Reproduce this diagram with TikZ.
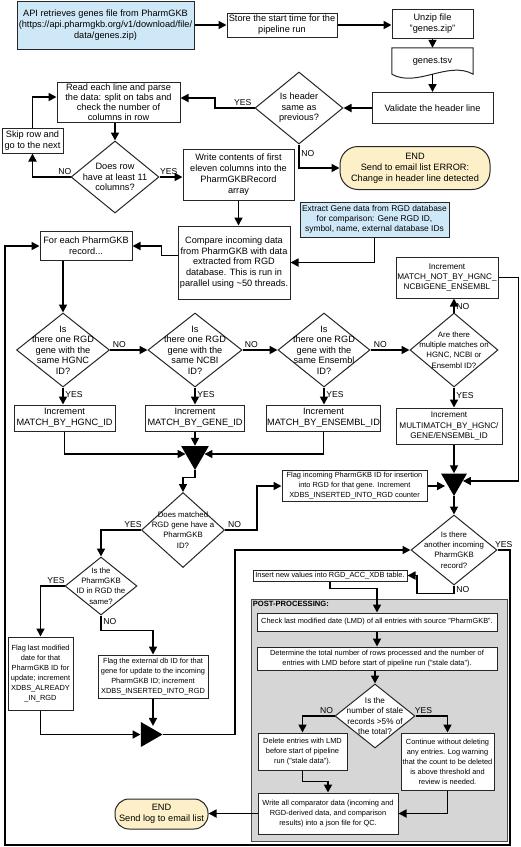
\documentclass[tikz,border=0pt]{standalone}
\usepackage{fontspec}
\setmainfont{Liberation Sans}
\usetikzlibrary{shapes.geometric,arrows.meta}
\definecolor{apiblue}{RGB}{207,232,248}
\definecolor{endyellow}{RGB}{253,240,200}
\definecolor{postgray}{RGB}{214,214,214}

\begin{document}
\begin{tikzpicture}[x=1pt,y=-1pt,
  box/.style={draw=black!85, line width=1pt, fill=white, align=center, inner sep=1pt,
    font=\fontsize{9.2}{10.8}\selectfont},
  small/.style={font=\fontsize{7.4}{10}\selectfont},
  mid/.style={font=\fontsize{8.2}{10.2}\selectfont},
  bluebox/.style={fill=apiblue},
  endbox/.style={box, fill=endyellow, rounded corners=#1},
  dia/.style={diamond, draw=black!85, line width=1pt, fill=white, inner sep=0pt},
  dtext/.style={align=center, inner sep=0pt, font=\fontsize{9.2}{10.5}\selectfont},
  dsmall/.style={font=\fontsize{7.8}{10.2}\selectfont},
  merge/.style={regular polygon, regular polygon sides=3, fill=black, inner sep=0pt},
  arr/.style={line width=1.7pt, -{Triangle[length=8pt,width=8pt]}},
  lbl/.style={font=\fontsize{8.6}{10}\selectfont, inner sep=1.5pt}
]
\useasboundingbox (0,0) rectangle (520,847);
\newcommand\decision[7]{
\node[dia, minimum width=#5pt, minimum height=#6pt] (#1) at (#3,#4) {};
\node[dtext, #2] (#1t) at (#1) {#7};
}
% post-processing area
\node[draw=black!70, line width=0.8pt, fill=postgray, minimum width=256pt, minimum height=242pt] (post) at (379,720) {};
\node[anchor=north west, font=\bfseries\fontsize{7.6}{9}\selectfont, inner sep=2pt] (posttitle) at (post.north west) {POST-PROCESSING:};
\coordinate (br) at (510,845);
\coordinate (bl) at (5,845);

% reading the file
\node[box, bluebox, minimum width=177pt, minimum height=48pt] (api) at (105.5,25) {API retrieves genes file from PharmGKB\\(https://api.pharmgkb.org/v1/download/file/\\data/genes.zip)};
\node[box, minimum width=110pt, minimum height=24pt] (start) at (282,25) {Store the start time for the\\pipeline run};
\node[box, minimum width=81pt, minimum height=29pt] (unzip) at (432.5,23.5) {Unzip file\\"genes.zip"};
\node[minimum width=81pt, minimum height=26pt, inner sep=0pt, font=\fontsize{9.2}{10.8}\selectfont] (tsv) at (432.5,61) {genes.tsv};
\draw[draw=black!85, line width=1pt] (tsv.south west) -- (tsv.north west) -- (tsv.north east) -- (tsv.south east)
  .. controls +(-25pt,14pt) and +(25pt,-14pt) .. (tsv.south west);
\node[box, minimum width=121pt, minimum height=31pt] (validate) at (432.5,108) {Validate the header line};
\decision{dhead}{}{299}{108}{88}{72}{Is header\\same as\\previous?}
\node[box, endbox=18pt, minimum width=150pt, minimum height=43pt] (end1) at (415,168) {END\\Send to email list ERROR:\\Change in header line detected};
\node[box, minimum width=123pt, minimum height=40pt, font=\fontsize{9.2}{10}\selectfont] (read) at (118.5,102) {Read each line and parse\\the data: split on tabs and\\check the number of\\columns in row};
\node[box, minimum width=61pt, minimum height=25pt] (skip) at (32.5,140.5) {Skip row and\\go to the next};
\decision{drow}{}{115}{177}{88}{72}{Does row\\have at least 11\\columns?}
\node[box, minimum width=111pt, minimum height=51pt] (write) at (238.5,174.5) {Write contents of first\\eleven columns into the\\PharmGKBRecord\\array};
\node[box, bluebox, minimum width=149pt, minimum height=35pt, font=\fontsize{8.4}{10}\selectfont] (extract) at (374.5,219.5) {Extract Gene data from RGD database\\for comparison: Gene RGD ID,\\symbol, name, external database IDs};
\node[box, minimum width=112pt, minimum height=73pt] (compare) at (234,262.5) {Compare incoming data\\from PharmGKB with data\\extracted from RGD\\database. This is run in\\parallel using \textasciitilde50 threads.};
\node[box, minimum width=92pt, minimum height=29pt] (foreach) at (86,246) {For each PharmGKB\\record...};

% matching
\decision{d1}{}{63}{350}{93}{74}{Is\\there one RGD\\gene with the\\same HGNC\\ID?}
\decision{d2}{}{195}{350}{94}{74}{Is\\there one RGD\\gene with the\\same NCBI\\ID?}
\decision{d3}{}{324}{350}{92}{74}{Is\\there one RGD\\gene with the\\same Ensembl\\ID?}
\decision{d4}{dsmall}{454}{350}{88}{74}{Are there\\multiple matches on\\HGNC, NCBI or\\Ensembl ID?}
\node[box, mid, minimum width=102pt, minimum height=41pt] (mnot) at (447,277.5) {Increment\\MATCH\_NOT\_BY\_HGNC\_\\NCBIGENE\_ENSEMBL};
\node[box, minimum width=101pt, minimum height=26pt] (hgnc) at (64.5,418) {Increment\\MATCH\_BY\_HGNC\_ID};
\node[box, minimum width=99pt, minimum height=26pt] (gene) at (195,418) {Increment\\MATCH\_BY\_GENE\_ID};
\node[box, minimum width=113pt, minimum height=26pt] (ens) at (323.5,418) {Increment\\MATCH\_BY\_ENSEMBL\_ID};
\node[box, mid, minimum width=106pt, minimum height=36pt] (multi) at (449,426) {Increment\\MULTIMATCH\_BY\_HGNC/\\GENE/ENSEMBL\_ID};
\node[merge, shape border rotate=180, minimum size=32pt] (m1) at (195,454) {};
\node[merge, shape border rotate=180, minimum size=30pt] (m2) at (454,481) {};
\decision{d5}{dsmall}{183}{530}{83}{75}{Does matched\\RGD gene have a\\PharmGKB\\ID?}
\node[box, small, minimum width=145pt, minimum height=31pt] (flagin) at (354.5,486) {Flag incoming PharmGKB ID for insertion\\into RGD for that gene. Increment\\XDBS\_INSERTED\_INTO\_RGD counter};
\decision{d6}{dsmall}{454}{550}{86}{70}{Is there\\another incoming\\PharmGKB\\record?}
\decision{d7}{dsmall}{101}{586}{72}{58}{Is the\\PharmGKB\\ID in RGD the\\same?}
\node[box, small, minimum width=65pt, minimum height=73pt] (flaglast) at (40.5,673.5) {Flag last modified\\date for that\\PharmGKB ID for\\update; increment\\XDBS\_ALREADY\\\_IN\_RGD};
\node[box, small, minimum width=110pt, minimum height=43pt] (flagext) at (153,676.5) {Flag the external db ID for that\\gene for update to the incoming\\PharmGKB ID; increment\\XDBS\_INSERTED\_INTO\_RGD};
\node[merge, shape border rotate=-90, minimum size=29pt] (m3) at (148,734.5) {};

% post-processing
\node[box, small, inner sep=0.5pt, minimum width=154pt, minimum height=11pt] (insert) at (330,575.5) {Insert new values into RGD\_ACC\_XDB table.};
\node[box, small, minimum width=240pt, minimum height=18pt] (check) at (377,622) {Check last modified date (LMD) of all entries with source "PharmGKB".};
\node[box, small, minimum width=240pt, minimum height=23pt] (determine) at (377,658.5) {Determine the total number of rows processed and the number of\\entries with LMD before start of pipeline run ("stale data").};
\decision{d8}{font=\fontsize{8.2}{10.2}\selectfont}{375}{716}{80}{64}{Is the\\number of stale\\records >5\% of\\the total?}
\node[box, small, minimum width=89pt, minimum height=37pt] (delete) at (302.5,751.5) {Delete entries with LMD\\before start of pipeline\\run ("stale data").};
\node[box, small, inner sep=0.5pt, minimum width=93pt, minimum height=57pt] (cont) at (447.5,761.5) {Continue without deleting\\any entries. Log warning\\that the count to be deleted\\is above threshold and\\review is needed.};
\node[box, small, minimum width=140pt, minimum height=41pt] (writeall) at (328,813.5) {Write all comparator data (incoming and\\RGD-derived data, and comparison\\results) into a json file for QC.};
\node[box, endbox=14pt, minimum width=93pt, minimum height=30pt] (end2) at (161.5,814) {END\\Send log to email list};

% connectors
\draw[arr] (api) -- (start);
\draw[arr] (start.east) -- (start.east -| unzip.west);
\draw[arr] (unzip) -- (tsv);
\draw[arr] (tsv.south) -- (validate);
\draw[arr] (validate) -- (dhead);
\draw[arr] (dhead.west) -- node[lbl, above, pos=.3] (y1) {YES} (215,108) |- ([yshift=4pt]read.east);
\draw[arr] (dhead.south) -- node[lbl, right, pos=.4] (n1) {NO} (dhead.south |- end1.west) -- (end1.west);
\draw[arr] (read.south -| drow.north) -- (drow.north);
\draw[arr] (drow.west) -- node[lbl, above, pos=.15] (n2) {NO} (drow.west -| skip.south) -- (skip.south);
\draw[arr] (skip.north) |- ([yshift=5pt]read.west);
\draw[arr] (drow.east) -- node[lbl, above, pos=.4] (y2) {YES} (drow.east -| write.west);
\draw[arr] (write.south) -- (write.south |- compare.north);
\draw[arr] (extract.south) |- (compare.east);
\draw[arr] ([yshift=7pt]compare.west) -- ++(-16,0) |- (foreach.east);
\draw[arr] (foreach.south -| d1.north) -- (d1.north);
\draw[arr] (d1.east) -- node[lbl, above, pos=.25] (n3) {NO} (d2.west);
\draw[arr] (d2.east) -- node[lbl, above, pos=.25] (n4) {NO} (d3.west);
\draw[arr] (d3.east) -- node[lbl, above, pos=.25] (n5) {NO} (d4.west);
\draw[arr] (d4.north) -- node[lbl, right, pos=.4] (n6) {NO} (d4.north |- mnot.south);
\draw[arr] (d1.south) -- node[lbl, right, pos=.4] (y3) {YES} (d1.south |- hgnc.north);
\draw[arr] (d2.south) -- node[lbl, right, pos=.4] (y4) {YES} (d2.south |- gene.north);
\draw[arr] (d3.south) -- node[lbl, right, pos=.4] (y5) {YES} (d3.south |- ens.north);
\draw[arr] (d4.south) -- node[lbl, right, pos=.4] (y6) {YES} (d4.south |- multi.north);
\draw[arr] (hgnc.south) |- (m1);
\draw[arr] (gene.south) -- (m1);
\draw[arr] (ens.south) |- (m1);
\draw[arr] (multi.south -| m2) -- (m2);
\draw[arr] (mnot.east) -- ++(20,0) |- (m2);
\draw[arr] (flagin.east) -- (flagin.east -| m2.west);
\draw[arr] (m1.corner 1) -- ++(0,7) -| (d5.north);
\draw[arr] (d5.east) -- node[lbl, above, pos=.3] (n7) {NO} ++(32,0) |- (flagin.west);
\draw[arr] (m2.corner 1) -- (d6.north);
\draw[arr] (d6.east) -- node[lbl, above, pos=.5] (y7) {YES} (d6.east -| br) -- (br) -- (bl) |- (foreach.west);
\draw[arr] (d5.west) -- node[lbl, above, pos=.2] (y8) {YES} (d5.west -| d7.north) -- (d7.north);
\draw[arr] (d7.west) -- node[lbl, above, pos=.35] (y9) {YES} (d7.west -| flaglast.north) -- (flaglast.north);
\draw[arr] (d7.south) -- node[lbl, right, pos=.4] (n8) {NO} ++(0,15) -| (flagext.north);
\draw[arr] (flaglast.south) |- (m3);
\draw[arr] (flagext.south) -- (flagext.south |- m3.north);
\draw[arr] (m3.corner 1) -| (235,550) -- (d6.west);
\draw[arr] (d6.south) -- node[lbl, right, pos=.5] (n9) {NO} ++(0,8) -- ++(-37,0) |- (insert.east);
\draw[arr] (insert.south) -- ++(0,7) -| (check.north);
\draw[arr] (check) -- (determine);
\draw[arr] (determine.south -| d8.north) -- (d8.north);
\draw[arr] (d8.west) -- node[lbl, above, pos=.25] (n10) {NO} (d8.west -| delete.north) -- (delete.north);
\draw[arr] (d8.east) -- node[lbl, above, pos=.25] (y10) {YES} (d8.east -| cont.north) -- (cont.north);
\draw[arr] (delete.south) -- ++(0,11) -| (writeall.north);
\draw[arr] (cont.south) |- (writeall.east);
\draw[arr] (writeall.west) -- (writeall.west -| end2.east);
\end{tikzpicture}
\end{document}
